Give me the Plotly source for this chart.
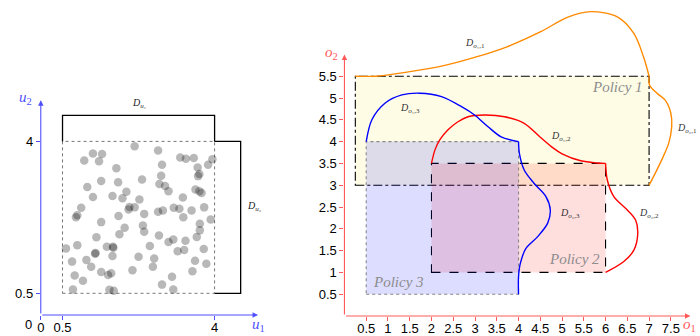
import plotly.graph_objects as go

# ---------------- data: left panel (input space) ----------------
u1_pts = [2.16, 2.70, 1.20, 1.41, 1.00, 1.34, 3.21, 3.34, 3.52, 3.95, 3.85, 2.79, 1.74, 3.61,
          2.77, 3.62, 3.65, 1.39, 1.78, 2.33, 2.73, 2.86, 1.07, 1.97, 2.94, 3.56, 3.65, 3.70,
          1.20, 1.65, 1.88, 2.27, 3.27, 3.76, 0.93, 2.04, 2.02, 2.16, 3.06, 3.19, 2.70, 2.81,
          3.47, 0.84, 0.81, 2.38, 1.79, 3.28, 3.91, 1.39, 3.66, 2.35, 2.38, 1.93, 3.66, 1.81,
          2.72, 3.59, 1.28, 3.05, 2.94, 3.33, 0.84, 0.58, 1.52, 1.66, 1.67, 2.51, 3.75, 3.15,
          3.30, 1.26, 1.25, 1.65, 2.25, 2.61, 1.05, 0.72, 3.55, 3.81, 1.16, 2.58, 2.11, 1.39,
          1.62, 1.55, 3.49, 0.78, 0.97, 3.02, 2.79, 0.74, 1.58, 1.68, 3.05]
u2_pts = [3.89, 3.79, 3.72, 3.71, 3.56, 3.54, 3.63, 3.60, 3.62, 3.59, 3.46, 3.46, 3.38, 3.40,
          3.21, 3.20, 3.25, 3.09, 3.06, 3.12, 3.02, 2.97, 2.95, 2.84, 2.85, 2.89, 2.85, 2.81,
          2.72, 2.74, 2.69, 2.66, 2.71, 2.48, 2.47, 2.49, 2.43, 2.48, 2.47, 2.45, 2.38, 2.41,
          2.41, 2.30, 2.25, 2.33, 2.28, 2.25, 2.20, 2.14, 2.10, 2.06, 1.92, 2.01, 1.95, 1.86,
          1.83, 1.80, 1.79, 1.74, 1.68, 1.71, 1.61, 1.53, 1.57, 1.57, 1.55, 1.59, 1.52, 1.47,
          1.50, 1.43, 1.41, 1.36, 1.34, 1.30, 1.27, 1.23, 1.25, 1.18, 1.11, 1.11, 1.03, 0.99,
          0.96, 0.92, 1.01, 0.91, 0.79, 0.88, 0.70, 0.59, 0.58, 0.56, 0.59]

box_lo, box_hi = 0.5, 4.0
bracket_u1_x = [0.5, 0.5, 4.0, 4.0]
bracket_u1_y = [4.0, 4.6, 4.6, 4.0]
bracket_u2_x = [4.0, 4.6, 4.6, 4.0]
bracket_u2_y = [4.0, 4.0, 0.5, 0.5]
left_xticks = [0, 0.5, 4]
left_yticks = [0.5, 4]

# ---------------- data: right panel (output space) ----------------
policies = {
    "Policy 1": dict(x0=0.25, x1=7.0, y0=3.0, y1=5.5),
    "Policy 2": dict(x0=2.0, x1=6.0, y0=1.0, y1=3.5),
    "Policy 3": dict(x0=0.5, x1=4.0, y0=0.5, y1=4.0),
}

o11_x = [0.25, 0.71, 1.47, 2.23, 2.99, 3.75, 4.51, 5.12, 5.66, 6.27, 6.65, 6.87, 7.0]
o11_y = [5.50, 5.50, 5.60, 5.73, 5.93, 6.18, 6.52, 6.85, 6.98, 6.86, 6.48, 5.95, 5.50]
o21_x = [7.0, 7.01, 7.18, 7.37, 7.50, 7.52, 7.45, 7.29, 7.14, 7.0]
o21_y = [5.50, 5.30, 5.11, 4.95, 4.65, 4.34, 3.96, 3.58, 3.27, 3.0]

o12_x = [2.0, 2.08, 2.19, 2.38, 2.60, 2.84, 3.22, 3.68, 4.13, 4.50, 4.80, 5.00, 5.43, 5.80, 6.0]
o12_y = [3.5, 3.81, 4.04, 4.27, 4.45, 4.57, 4.61, 4.57, 4.42, 4.10, 3.85, 3.72, 3.56, 3.51, 3.5]
o22_x = [6.0, 6.04, 6.19, 6.50, 6.69, 6.74, 6.65, 6.42, 6.0]
o22_y = [3.5, 3.12, 2.74, 2.43, 2.20, 1.90, 1.51, 1.25, 1.0]

o13_x = [0.5, 0.63, 0.93, 1.32, 1.73, 2.23, 2.69, 2.99, 3.30, 3.60, 4.0]
o13_y = [4.0, 4.50, 4.88, 5.07, 5.11, 5.03, 4.80, 4.61, 4.34, 4.11, 4.0]
o23_x = [4.0, 4.02, 4.13, 4.36, 4.63, 4.73, 4.67, 4.44, 4.17, 4.04, 4.0, 4.0]
o23_y = [4.0, 3.73, 3.35, 3.04, 2.74, 2.43, 2.13, 1.82, 1.55, 1.20, 0.90, 0.5]

right_xticks = [0.5, 1, 1.5, 2, 2.5, 3, 3.5, 4, 4.5, 5, 5.5, 6, 6.5, 7, 7.5]
right_yticks = [0.5, 1, 1.5, 2, 2.5, 3, 3.5, 4, 4.5, 5, 5.5]

curve_labels = [
    ("<i>D</i><sub><i>o</i>₁,1</sub>", 2.99, 6.25),
    ("<i>D</i><sub><i>o</i>₁,3</sub>", 1.51, 4.76),
    ("<i>D</i><sub><i>o</i>₁,2</sub>", 4.97, 4.11),
    ("<i>D</i><sub><i>o</i>₂,3</sub>", 5.18, 2.34),
    ("<i>D</i><sub><i>o</i>₂,2</sub>", 6.99, 2.36),
    ("<i>D</i><sub><i>o</i>₂,1</sub>", 7.87, 4.30),
]
policy_labels = [("Policy 1", 6.27, 5.26), ("Policy 2", 5.28, 1.30), ("Policy 3", 1.24, 0.79)]

# ---------------- styles ----------------
BLUE_AX = "#4f4fff"
RED_AX = "#ff5a5a"
SERIF = "Liberation Serif, DejaVu Serif, serif"
SANS = "Liberation Sans, Arial, sans-serif"

fig = go.Figure()

# left panel
fig.add_trace(go.Scatter(x=u1_pts, y=u2_pts, mode="markers", xaxis="x", yaxis="y",
                         marker=dict(size=8.5, color="rgba(0,0,0,0.28)", line=dict(width=0)),
                         hoverinfo="skip"))
for bx, by in [(bracket_u1_x, bracket_u1_y), (bracket_u2_x, bracket_u2_y)]:
    fig.add_trace(go.Scatter(x=bx, y=by, mode="lines", xaxis="x", yaxis="y",
                             line=dict(color="black", width=1.3), hoverinfo="skip"))

shapes = [dict(type="rect", xref="x", yref="y", x0=box_lo, x1=box_hi, y0=box_lo, y1=box_hi,
               line=dict(color="#777777", width=1, dash="dot"), layer="below")]

# right panel policy rectangles
pol_style = {
    "Policy 1": dict(fill="#fffce6", line=dict(color="black", width=1.1, dash="dashdot")),
    "Policy 2": dict(fill="rgba(255,0,0,0.13)", line=dict(color="black", width=1.1, dash="dash")),
    "Policy 3": dict(fill="rgba(0,0,255,0.135)", line=dict(color="#888888", width=1.1, dash="dot")),
}
for name, r in policies.items():
    st = pol_style[name]
    shapes.append(dict(type="rect", xref="x2", yref="y2", x0=r["x0"], x1=r["x1"], y0=r["y0"], y1=r["y1"],
                       fillcolor=st["fill"], line=st["line"], layer="below"))

for cx, cy, col in [(o11_x, o11_y, "#ff8a00"), (o21_x, o21_y, "#ff8a00"),
                    (o12_x, o12_y, "#ff0000"), (o22_x, o22_y, "#ff0000"),
                    (o13_x, o13_y, "#0000ff"), (o23_x, o23_y, "#0000ff")]:
    fig.add_trace(go.Scatter(x=cx, y=cy, mode="lines", xaxis="x2", yaxis="y2",
                             line=dict(color=col, width=1.4, shape="spline", smoothing=0.9),
                             hoverinfo="skip"))

ann = []
def arrow(xr, yr, x0, y0, x1, y1, col):
    return dict(xref=xr, yref=yr, axref=xr, ayref=yr, x=x1, y=y1, ax=x0, ay=y0, text="",
                showarrow=True, arrowhead=2, arrowsize=1, arrowwidth=1.1, arrowcolor=col, standoff=0)

ann += [arrow("x", "y", 0, 0, 5.0, 0, BLUE_AX), arrow("x", "y", 0, 0, 0, 4.95, BLUE_AX),
        arrow("x2", "y2", 0, 0, 7.95, 0, RED_AX), arrow("x2", "y2", 0, 0, 0, 6.0, RED_AX)]

def ptext(px, py, text, font):
    return dict(xref="paper", yref="paper", x=px / 700, y=1 - py / 336, text=text, showarrow=False,
                xanchor="center", yanchor="middle", font=font)

ann += [
    ptext(256, 325, "<i>u</i><sub>1</sub>", dict(family=SERIF, size=15, color=BLUE_AX)),
    ptext(22, 98, "<i>u</i><sub>2</sub>", dict(family=SERIF, size=15, color=BLUE_AX)),
    ptext(689, 325, "<i>o</i><sub>1</sub>", dict(family=SERIF, size=15, color=RED_AX)),
    ptext(329, 53, "<i>o</i><sub>2</sub>", dict(family=SERIF, size=15, color=RED_AX)),
    ptext(25, 324, "0", dict(family=SANS, size=13, color="black")),
]

ann += [
    dict(xref="x", yref="y", x=2.25, y=4.88, text="<i>D</i><sub><i>u</i>₁</sub>", showarrow=False,
         font=dict(family=SERIF, size=10, color="#222")),
    dict(xref="x", yref="y", x=4.92, y=2.5, text="<i>D</i><sub><i>u</i>₂</sub>", showarrow=False,
         font=dict(family=SERIF, size=10, color="#222")),
]
for t, x, y in curve_labels:
    ann.append(dict(xref="x2", yref="y2", x=x, y=y, text=t, showarrow=False,
                    font=dict(family=SERIF, size=10, color="#333")))
for t, x, y in policy_labels:
    ann.append(dict(xref="x2", yref="y2", x=x, y=y, text="<i>" + t + "</i>", showarrow=False,
                    font=dict(family=SERIF, size=15, color="#8c8c8c")))

def fmt(v):
    return f"{v:g}"

common = dict(showgrid=False, zeroline=False, showline=False, ticks="outside", ticklen=4,
              tickfont=dict(family=SANS, size=13, color="black"), fixedrange=True)

fig.update_layout(
    width=700, height=336, margin=dict(l=0, r=0, t=0, b=0),
    paper_bgcolor="white", plot_bgcolor="white", showlegend=False,
    shapes=shapes, annotations=ann,
    xaxis=dict(domain=[37 / 700, (37 + 5.2 * 43.7) / 700], range=[0, 5.2], anchor="y",
               tickvals=left_xticks, ticktext=[fmt(v) for v in left_xticks], tickcolor=BLUE_AX,
               ticklabelstandoff=-4, **common),
    yaxis=dict(domain=[21 / 336, 1], range=[0, 315 / 43.4], anchor="x",
               tickvals=left_yticks, ticktext=[fmt(v) for v in left_yticks], tickcolor=BLUE_AX, **common),
    xaxis2=dict(domain=[342.4 / 700, (342.4 + 8.0 * 43.77) / 700], range=[0, 8.0], anchor="y2",
                tickvals=right_xticks, ticktext=[fmt(v) for v in right_xticks], tickcolor=RED_AX,
                ticklabelstandoff=-4, **common),
    yaxis2=dict(domain=[20 / 336, 1], range=[0, 316 / 43.6], anchor="x2",
                tickvals=right_yticks, ticktext=[fmt(v) for v in right_yticks], tickcolor=RED_AX, **common),
)

post = ("var s=document.documentElement.style;s.margin='0';s.padding='0';s.overflow='hidden';s.height='336px';"
        "var b=document.body.style;b.margin='0';b.padding='0';b.overflow='hidden';b.height='336px';")
fig.write_html("out.html", config={"displayModeBar": False}, post_script=post)
